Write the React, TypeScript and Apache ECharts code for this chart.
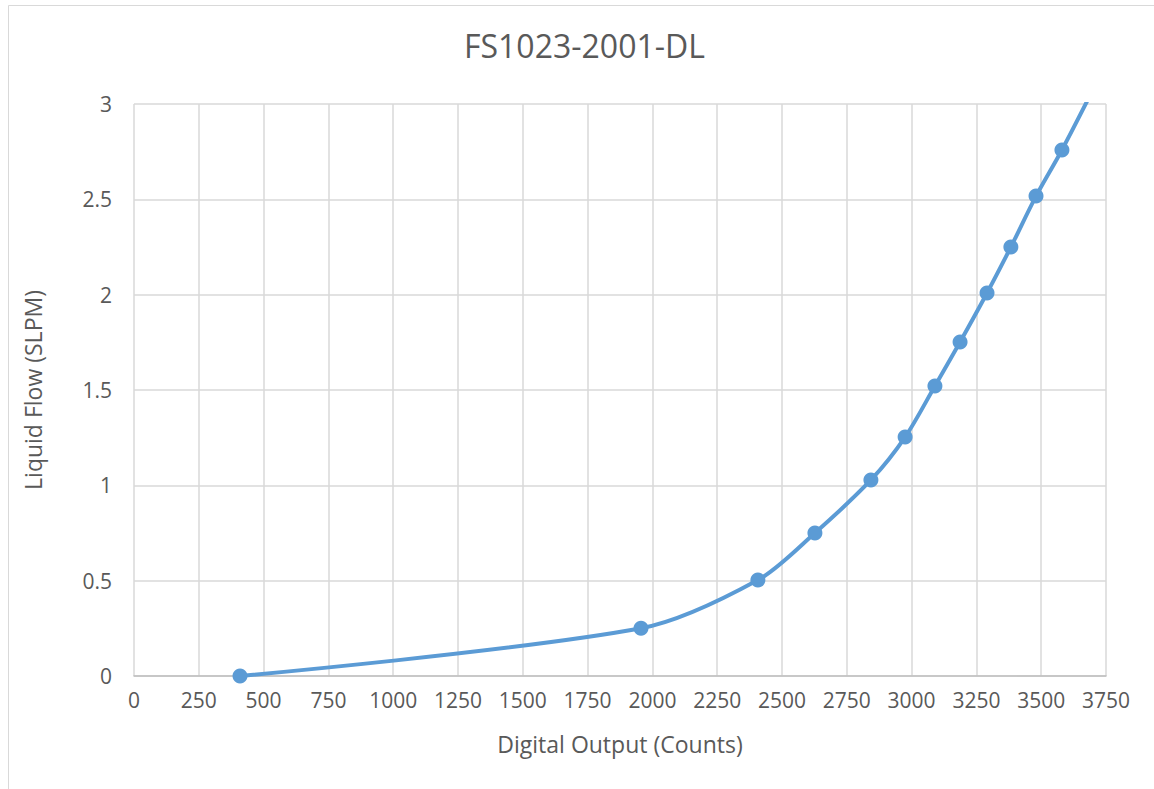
import React, { useEffect, useRef } from "react";
import * as echarts from "echarts";

const xValues = [409, 1956, 2407, 2627, 2843, 2975, 3090, 3187, 3291, 3383, 3480, 3580];
const yValues = [0, 0.25, 0.503, 0.75, 1.028, 1.253, 1.521, 1.752, 2.009, 2.25, 2.517, 2.759];
// continuation of the curve beyond the visible range (clipped at the top of the plot)
const hiddenPoint = [3720, 3.13];

const titleText = "FS1023-2001-DL";
const xName = "Digital Output (Counts)";
const yName = "Liquid Flow (SLPM)";

export default function App() {
  const ref = useRef<HTMLDivElement>(null);
  useEffect(() => {
    if (!ref.current) return;
    const chart = echarts.init(ref.current, undefined, { renderer: "svg" });
    const font = "'Open Sans', 'DejaVu Sans', sans-serif";
    const textColor = "#595959";
    const data: any[] = xValues.map((x, i) => [x, yValues[i]]);
    data.push({ value: hiddenPoint, symbol: "none" });
    chart.setOption({
      animation: false,
      backgroundColor: "#ffffff",
      title: {
        text: titleText,
        left: 459,
        top: 24,
        textStyle: { fontFamily: font, fontSize: 32, fontWeight: "normal", color: textColor },
      },
      graphic: [
        {
          type: "rect",
          shape: { x: 8.5, y: 5.5, width: 1300, height: 1000 },
          style: { fill: "none", stroke: "#d9d9d9", lineWidth: 1 },
          silent: true,
        },
      ],
      grid: { left: 134, top: 104, right: 48, bottom: 113, containLabel: false },
      xAxis: {
        type: "value",
        min: 0,
        max: 3750,
        interval: 250,
        name: xName,
        nameLocation: "middle",
        nameGap: 56,
        nameTextStyle: { fontFamily: font, fontSize: 23, color: textColor },
        axisLine: { show: true, lineStyle: { color: "#bfbfbf", width: 1.5 } },
        axisTick: { show: false },
        axisLabel: {
          fontFamily: font,
          fontSize: 21,
          color: textColor,
          margin: 13,
          formatter: (v: number) => String(v),
        },
        splitLine: { show: true, lineStyle: { color: "#d9d9d9", width: 1.5 } },
      },
      yAxis: {
        type: "value",
        min: 0,
        max: 3,
        interval: 0.5,
        name: yName,
        nameLocation: "middle",
        nameGap: 90,
        nameTextStyle: { fontFamily: font, fontSize: 23, color: textColor },
        axisLine: { show: false },
        axisTick: { show: false },
        axisLabel: { fontFamily: font, fontSize: 21, color: textColor, margin: 22 },
        splitLine: { show: true, lineStyle: { color: "#d9d9d9", width: 1.5 } },
      },
      series: [
        {
          type: "line",
          data,
          smooth: 0.3,
          clip: true,
          symbol: "circle",
          symbolSize: 15,
          showSymbol: true,
          itemStyle: { color: "#5b9bd5" },
          lineStyle: { color: "#5b9bd5", width: 4 },
        },
      ],
    });
    return () => chart.dispose();
  }, []);
  return (
    <div
      ref={ref}
      style={{ position: "fixed", left: 0, top: 0, width: 1154, height: 789, background: "#fff" }}
    />
  );
}
